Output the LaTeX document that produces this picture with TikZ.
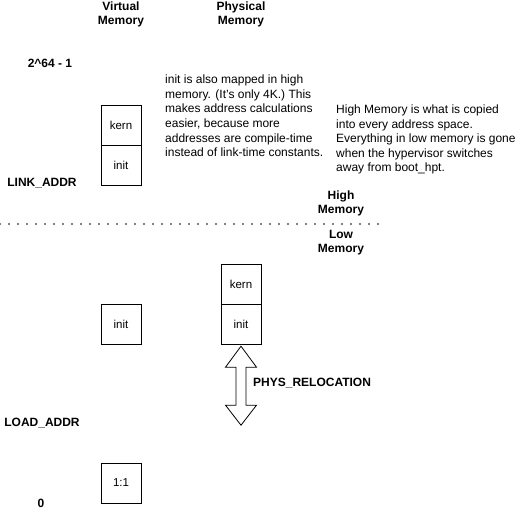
\documentclass[tikz,border=0pt]{standalone}
\usepackage{fontspec}
\setmainfont{Liberation Sans}
\usetikzlibrary{positioning,calc}

\tikzset{
    membox/.style={draw, line width=0.8pt, minimum size=40pt, inner sep=0pt, font=\fontsize{11.5}{14}\selectfont},
    addrlabel/.style={font=\bfseries\fontsize{12}{14}\selectfont, align=center, inner sep=0pt},
    note/.style={font=\fontsize{12}{14.6}\selectfont, align=left, anchor=west, inner sep=0pt},
    relarrow/.style={draw, line width=0.8pt, line join=miter}
}

\begin{document}
\begin{tikzpicture}[x=1pt, y=-1pt, node distance=0pt]
        \useasboundingbox (0,0) rectangle (522,515);

        % column headers
        \node[addrlabel] (vhead) at (121,14) {Virtual\\Memory};
        \node[addrlabel] (phead) at (241,14) {Physical\\Memory};

        % address labels
        \node[addrlabel] (top) at (50,63) {2\textasciicircum64 - 1};
        \node[addrlabel] (link) at (42,183) {LINK\_ADDR};
        \node[addrlabel] (load) at (42,423) {LOAD\_ADDR};
        \node[addrlabel] (zero) at (41,503) {0};

        % virtual memory
        \node[membox] (vkern) at (121,125) {kern};
        \node[membox, below=of vkern] (vinit) {init};
        \node[membox] (vlow) at (121,324) {init};
        \node[membox] (vone) at (121,483) {1:1};

        % physical memory
        \node[membox] (pkern) at (241,284) {kern};
        \node[membox, below=of pkern] (pinit) {init};

        % notes
        \node[note] (initnote) at (165,116) {init is also mapped in high\\memory. (It's only 4K.) This\\makes address calculations\\easier, because more\\addresses are compile-time\\instead of link-time constants.};
        \node[note] (highnote) at (336,139.5) {High Memory is what is copied\\into every address space.\\Everything in low memory is gone\\when the hypervisor switches\\away from boot\_hpt.};

        % high / low split
        \node[addrlabel] (high) at (341,203) {High\\Memory};
        \node[addrlabel] (low) at (341,243) {Low\\Memory};
        \coordinate (splitL) at (0,224);
        \coordinate (splitR) at (380,224);
        \draw[line width=1.6pt, line cap=round, dash pattern=on 0pt off 9pt] (splitL) -- (splitR);

        % relocation arrow
        \draw[relarrow] ($(pinit.south)+(0,1)$) -- ++(15.5,21) -- ++(-10.5,0) -- ++(0,38)
            -- ++(10.5,0) -- ++(-15.5,20) -- ++(-15.5,-20) -- ++(10.5,0) -- ++(0,-38)
            -- ++(-10.5,0) -- cycle;
        \node[addrlabel, anchor=west] (reloc) at (253,383) {PHYS\_RELOCATION};
    \end{tikzpicture}
\end{document}
